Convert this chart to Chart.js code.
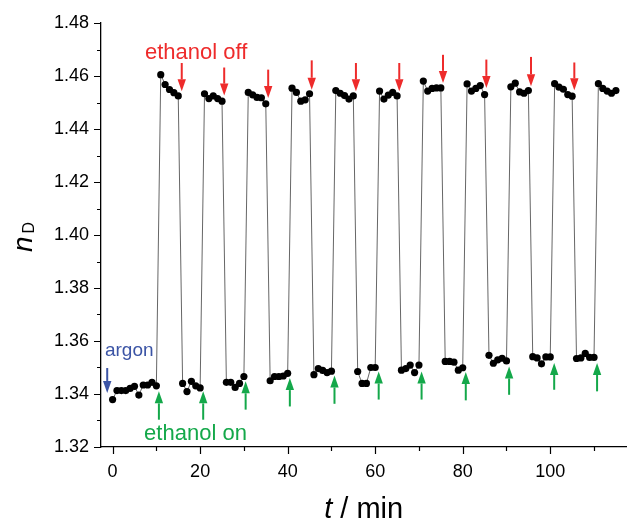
<!DOCTYPE html>
<html>
<head>
<meta charset="utf-8">
<script src="https://cdn.jsdelivr.net/npm/chart.js@4.4.1/dist/chart.umd.min.js"></script>
<style>
    html, body { margin: 0; padding: 0; background: #fff; }
    #wrap { width: 630px; height: 526px; }
</style>
</head>
<body>
<div id="wrap"><canvas id="canvas" width="630" height="526"></canvas></div>
<script>
// time in minutes, one reading per minute
var times = [0, 1, 2, 3, 4, 5, 6, 7, 8, 9, 10,
    11, 12, 13, 14, 15, 16, 17, 18, 19, 20,
    21, 22, 23, 24, 25, 26, 27, 28, 29, 30,
    31, 32, 33, 34, 35, 36, 37, 38, 39, 40,
    41, 42, 43, 44, 45, 46, 47, 48, 49, 50,
    51, 52, 53, 54, 55, 56, 57, 58, 59, 60,
    61, 62, 63, 64, 65, 66, 67, 68, 69, 70,
    71, 72, 73, 74, 75, 76, 77, 78, 79, 80,
    81, 82, 83, 84, 85, 86, 87, 88, 89, 90,
    91, 92, 93, 94, 95, 96, 97, 98, 99, 100,
    101, 102, 103, 104, 105, 106, 107, 108, 109, 110,
    111, 112, 113, 114, 115];

// refractive index n_D
var nD = [1.3379, 1.3413, 1.3413, 1.3413, 1.3421, 1.3429, 1.3396, 1.3434, 1.3434, 1.3444, 1.3431,
    1.4605, 1.4568, 1.4549, 1.4537, 1.4525, 1.3440, 1.3409, 1.3448, 1.3431, 1.3423,
    1.4533, 1.4515, 1.4525, 1.4515, 1.4505, 1.3444, 1.3444, 1.3425, 1.3440, 1.3466,
    1.4538, 1.4529, 1.4519, 1.4518, 1.4495, 1.3450, 1.3466, 1.3466, 1.3468, 1.3478,
    1.4554, 1.4538, 1.4505, 1.4510, 1.4533, 1.3473, 1.3496, 1.3489, 1.3481, 1.3486,
    1.4545, 1.4535, 1.4526, 1.4513, 1.4525, 1.3485, 1.3440, 1.3440, 1.3500, 1.3500,
    1.4543, 1.4513, 1.4528, 1.4538, 1.4525, 1.3490, 1.3496, 1.3509, 1.3481, 1.3509,
    1.4581, 1.4543, 1.4553, 1.4555, 1.4555, 1.3523, 1.3523, 1.3520, 1.3490, 1.3499,
    1.4570, 1.4543, 1.4553, 1.4564, 1.4530, 1.3546, 1.3516, 1.3529, 1.3535, 1.3525,
    1.4559, 1.4573, 1.4540, 1.4535, 1.4545, 1.3541, 1.3536, 1.3514, 1.3540, 1.3540,
    1.4571, 1.4558, 1.4550, 1.4530, 1.4524, 1.3534, 1.3536, 1.3553, 1.3538, 1.3538,
    1.4571, 1.4553, 1.4543, 1.4535, 1.4545];

// "ethanol off" arrows (t, start n, tip n)
var offArrowT = [15.8, 25.5, 35.55, 45.5, 55.6, 65.5, 75.5, 85.4, 95.6, 105.5];
var offArrowFrom = [1.4649, 1.4632, 1.4624, 1.4659, 1.4649, 1.4649, 1.4680, 1.4662, 1.4672, 1.4651];
var offArrowTo = [1.4542, 1.4526, 1.4517, 1.4548, 1.4542, 1.4542, 1.4574, 1.4555, 1.4561, 1.4546];

// "ethanol on" arrows
var onArrowT = [10.58, 20.7, 30.4, 40.5, 50.7, 60.8, 70.6, 80.7, 90.6, 100.9, 110.7];
var onArrowFrom = [1.3303, 1.3303, 1.3341, 1.3353, 1.3363, 1.3379, 1.3379, 1.3376, 1.3397, 1.3416, 1.3410];
var onArrowTo = [1.3410, 1.3410, 1.3448, 1.3460, 1.3470, 1.3485, 1.3485, 1.3483, 1.3504, 1.3517, 1.3517];

// argon arrow
var argonArrowT = [-1.23];
var argonArrowFrom = [1.3498];
var argonArrowTo = [1.3404];

var xMajorTicks = [0, 20, 40, 60, 80, 100];
var xMinorTicks = [10, 30, 50, 70, 90, 110];
var yMajorTicks = [1.32, 1.34, 1.36, 1.38, 1.40, 1.42, 1.44, 1.46, 1.48];
var yMinorTicks = [1.33, 1.35, 1.37, 1.39, 1.41, 1.43, 1.45, 1.47];

var RED = '#ee2b2b';
var GREEN = '#14a84a';
var BLUE = '#3b54a5';
var FONT = '"Liberation Sans", Arial, sans-serif';

function drawArrow(ctx, x, y0, y1, color) {
    var dir = y1 > y0 ? 1 : -1;
    var head = 12;
    ctx.save();
    ctx.strokeStyle = color;
    ctx.fillStyle = color;
    ctx.lineWidth = 2;
    ctx.beginPath();
    ctx.moveTo(x, y0);
    ctx.lineTo(x, y1 - dir * head);
    ctx.stroke();
    ctx.beginPath();
    ctx.moveTo(x - 4.2, y1 - dir * head);
    ctx.lineTo(x + 4.2, y1 - dir * head);
    ctx.lineTo(x, y1);
    ctx.closePath();
    ctx.fill();
    ctx.restore();
}

function drawArrowSet(chart, ts, from, to, color) {
    var xs = chart.scales.x, ys = chart.scales.y;
    for (var i = 0; i < ts.length; i++) {
        drawArrow(chart.ctx, xs.getPixelForValue(ts[i]), ys.getPixelForValue(from[i]), ys.getPixelForValue(to[i]), color);
    }
}

var decorations = {
    id: 'decorations',
    afterDatasetsDraw: function (chart) {
        var ctx = chart.ctx;
        var xs = chart.scales.x, ys = chart.scales.y;
        var area = chart.chartArea;

        drawArrowSet(chart, offArrowT, offArrowFrom, offArrowTo, RED);
        drawArrowSet(chart, onArrowT, onArrowFrom, onArrowTo, GREEN);
        drawArrowSet(chart, argonArrowT, argonArrowFrom, argonArrowTo, BLUE);

        ctx.save();
        ctx.textBaseline = 'alphabetic';
        ctx.textAlign = 'left';
        ctx.font = '22px ' + FONT;
        ctx.fillStyle = RED;
        ctx.fillText('ethanol off', xs.getPixelForValue(7.4), ys.getPixelForValue(1.4665));
        ctx.fillStyle = GREEN;
        ctx.fillText('ethanol on', xs.getPixelForValue(7.2), ys.getPixelForValue(1.3228));
        ctx.font = '19px ' + FONT;
        ctx.fillStyle = BLUE;
        ctx.fillText('argon', xs.getPixelForValue(-1.75), ys.getPixelForValue(1.3542));

        // tick marks (major and minor)
        ctx.strokeStyle = '#000';
        ctx.lineWidth = 1.2;
        ctx.beginPath();
        yMajorTicks.forEach(function (v) {
            var y = Math.round(ys.getPixelForValue(v)) + 0.5;
            ctx.moveTo(area.left, y); ctx.lineTo(area.left - 7, y);
        });
        yMinorTicks.forEach(function (v) {
            var y = Math.round(ys.getPixelForValue(v)) + 0.5;
            ctx.moveTo(area.left, y); ctx.lineTo(area.left - 4, y);
        });
        xMajorTicks.forEach(function (v) {
            var x = Math.round(xs.getPixelForValue(v)) + 0.5;
            ctx.moveTo(x, area.bottom); ctx.lineTo(x, area.bottom + 7);
        });
        xMinorTicks.forEach(function (v) {
            var x = Math.round(xs.getPixelForValue(v)) + 0.5;
            ctx.moveTo(x, area.bottom); ctx.lineTo(x, area.bottom + 4);
        });
        ctx.stroke();

        // axis titles
        ctx.fillStyle = '#000';
        ctx.font = 'italic 29px ' + FONT;
        var wT = ctx.measureText('t').width;
        ctx.font = '29px ' + FONT;
        var wRest = ctx.measureText(' / min').width;
        var x0 = (area.left + area.right) / 2 - (wT + wRest) / 2;
        ctx.font = 'italic 29px ' + FONT;
        ctx.fillText('t', x0, 518);
        ctx.font = '29px ' + FONT;
        ctx.fillText(' / min', x0 + wT, 518);

        ctx.translate(32, 252);
        ctx.rotate(-Math.PI / 2);
        ctx.font = 'italic 28px ' + FONT;
        ctx.fillText('n', 0, 0);
        ctx.font = '16px ' + FONT;
        ctx.fillText('D', 18.5, 2);
        ctx.restore();
    }
};

function buildChart() {
    var points = [];
    for (var i = 0; i < times.length; i++) {
        points.push({ x: times[i], y: nD[i] });
    }

    var ctx = document.getElementById('canvas').getContext('2d');
    new Chart(ctx, {
        type: 'scatter',
        data: {
            datasets: [{
                data: points,
                showLine: true,
                borderColor: '#555',
                borderWidth: 0.9,
                pointRadius: 3.6,
                pointBackgroundColor: '#000',
                pointBorderWidth: 0,
                pointHoverRadius: 3.6
            }]
        },
        options: {
            responsive: false,
            devicePixelRatio: 1,
            animation: false,
            events: [],
            layout: { padding: { top: 23, right: 0, bottom: 0, left: 0 } },
            plugins: { legend: { display: false }, tooltip: { enabled: false } },
            scales: {
                x: {
                    type: 'linear',
                    min: -2.65,
                    max: 117.4,
                    afterFit: function (s) { s.height = 79; },
                    afterBuildTicks: function (s) {
                        s.ticks = xMajorTicks.map(function (v) { return { value: v }; });
                    },
                    grid: { display: false, drawTicks: false },
                    border: { display: true, color: '#000', width: 1.3 },
                    ticks: {
                        padding: 14,
                        color: '#000',
                        font: { family: FONT, size: 18 },
                        maxRotation: 0,
                        callback: function (v) { return String(v); }
                    }
                },
                y: {
                    type: 'linear',
                    min: 1.32,
                    max: 1.48,
                    afterFit: function (s) { s.width = 101; },
                    afterBuildTicks: function (s) {
                        s.ticks = yMajorTicks.map(function (v) { return { value: v }; });
                    },
                    grid: { display: false, drawTicks: false },
                    border: { display: true, color: '#000', width: 1.3 },
                    ticks: {
                        padding: 12,
                        color: '#000',
                        font: { family: FONT, size: 18 },
                        callback: function (v) { return v.toFixed(2); }
                    }
                }
            }
        },
        plugins: [decorations]
    });
}

buildChart();
</script>
</body>
</html>
